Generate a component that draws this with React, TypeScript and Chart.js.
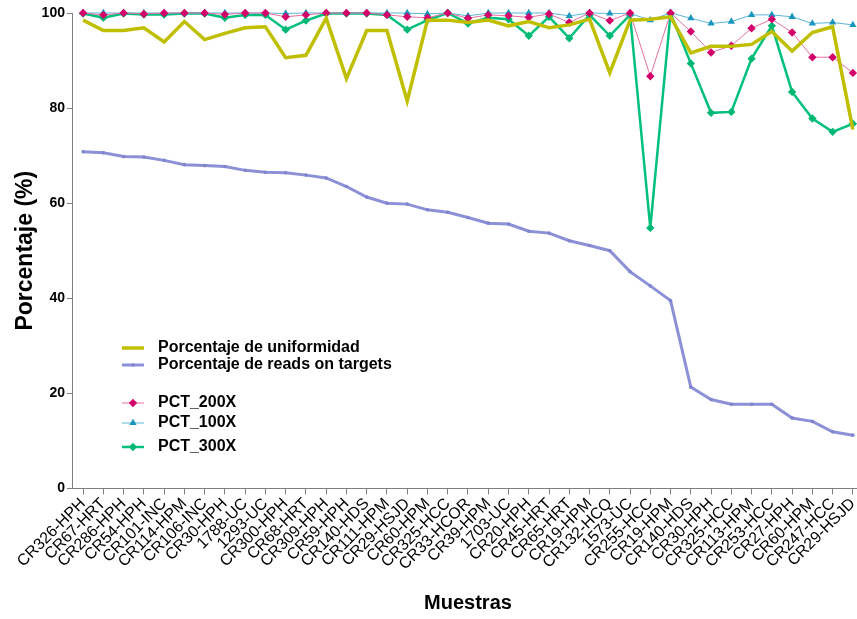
import React, { useEffect, useRef } from "react";
import { Chart, registerables } from "chart.js";

Chart.register(...registerables);

const categories = [
  "CR326-HPH", "CR67-HRT", "CR286-HPH", "CR54-HPH", "CR101-INC", "CR114-HPM", "CR106-INC",
  "CR30-HPH", "1788-UC", "1293-UC", "CR300-HPH", "CR68-HRT", "CR309-HPH", "CR59-HPH",
  "CR140-HDS", "CR111-HPM", "CR29-HSJD", "CR60-HPM", "CR325-HCC", "CR33-HCOR", "CR39-HPM",
  "1703-UC", "CR20-HPH", "CR45-HRT", "CR65-HRT", "CR19-HPM", "CR132-HCQ", "1573-UC",
  "CR255-HCC", "CR19-HPM", "CR140-HDS", "CR30-HPH", "CR325-HCC", "CR113-HPM", "CR253-HCC",
  "CR27-HPH", "CR60-HPM", "CR247-HCC", "CR29-HSJD",
];

const uniformidad = [
  98.5, 96.3, 96.3, 96.9, 93.9, 98.2, 94.4, 95.7, 96.9, 97.1, 90.6, 91.1, 98.9, 86.2,
  96.3, 96.3, 81.5, 98.5, 98.5, 98.0, 98.5, 97.3, 98.2, 96.9, 97.5, 98.7, 87.4, 98.5,
  98.7, 99.2, 91.6, 93.0, 93.0, 93.4, 96.1, 92.0, 95.9, 97.1, 75.5,
];

const readsOnTarget = [
  70.8, 70.6, 69.8, 69.7, 69.0, 68.1, 67.9, 67.7, 66.9, 66.5, 66.4, 65.9, 65.3, 63.5,
  61.3, 60.0, 59.8, 58.6, 58.1, 57.0, 55.8, 55.6, 54.1, 53.7, 52.1, 51.1, 50.0, 45.6,
  42.6, 39.5, 21.3, 18.7, 17.7, 17.7, 17.7, 14.8, 14.1, 11.9, 11.2,
];

const pct200 = [
  100, 99.6, 100, 99.8, 100, 100, 100, 99.7, 100, 100, 99.2, 99.6, 100, 100,
  100, 99.6, 99.2, 99.0, 100, 98.9, 99.6, 99.4, 99.1, 99.8, 98.0, 100, 98.4, 100,
  86.7, 100, 96.1, 91.7, 93.1, 96.8, 98.7, 95.9, 90.7, 90.7, 87.4,
];

const pct100 = [
  100, 100, 100, 100, 100, 100, 100, 100, 100, 100, 99.9, 100, 100, 100,
  100, 100, 100, 99.8, 100, 99.4, 100, 100, 100, 100, 99.4, 100, 99.9, 99.9,
  98.5, 100, 98.9, 97.8, 98.2, 99.6, 99.6, 99.2, 97.8, 98.0, 97.5,
];

const pct300 = [
  99.9, 99.0, 99.9, 99.7, 99.7, 99.9, 99.9, 99.0, 99.6, 99.6, 96.5, 98.4, 99.9, 99.9,
  99.9, 99.6, 96.5, 98.5, 100, 97.8, 99.0, 98.7, 95.2, 99.2, 94.7, 99.6, 95.2, 99.6,
  54.8, 99.9, 89.4, 79.0, 79.2, 90.4, 97.3, 83.4, 77.8, 75.0, 76.7,
];

const yTicks = [0, 20, 40, 60, 80, 100];

const FONT = "'Liberation Sans', Arial, Helvetica, sans-serif";
const AXIS_GRAY = "#7f7f7f";

const legendRows = [
  { idx: 0, y: 348 },
  { idx: 1, y: 365 },
  { idx: 2, y: 403 },
  { idx: 3, y: 423 },
  { idx: 4, y: 447 },
];

function drawMarker(ctx: CanvasRenderingContext2D, style: string, x: number, y: number, r: number, color: string) {
  ctx.save();
  ctx.fillStyle = color;
  ctx.beginPath();
  if (style === "rectRot") {
    ctx.moveTo(x, y - r);
    ctx.lineTo(x + r, y);
    ctx.lineTo(x, y + r);
    ctx.lineTo(x - r, y);
  } else if (style === "triangle") {
    ctx.moveTo(x, y - r);
    ctx.lineTo(x + r * 0.866, y + r * 0.5);
    ctx.lineTo(x - r * 0.866, y + r * 0.5);
  } else {
    ctx.arc(x, y, r, 0, Math.PI * 2);
  }
  ctx.closePath();
  ctx.fill();
  ctx.restore();
}

const legendPlugin = {
  id: "customLegend",
  afterDraw(chart: any) {
    const ctx: CanvasRenderingContext2D = chart.ctx;
    const xLine0 = chart.chartArea.left + 49;
    const xLine1 = xLine0 + 22;
    const xText = xLine0 + 36;
    ctx.save();
    legendRows.forEach((row) => {
      const ds: any = chart.data.datasets[row.idx];
      ctx.strokeStyle = ds.borderColor;
      ctx.lineWidth = ds.borderWidth;
      ctx.beginPath();
      ctx.moveTo(xLine0, row.y);
      ctx.lineTo(xLine1, row.y);
      ctx.stroke();
      if (ds.pointRadius > 0) {
        drawMarker(ctx, ds.pointStyle || "circle", (xLine0 + xLine1) / 2, row.y, ds.pointRadius, ds.pointBackgroundColor);
      }
      ctx.fillStyle = "#000";
      ctx.font = `bold 16px ${FONT}`;
      ctx.textBaseline = "middle";
      ctx.textAlign = "left";
      ctx.fillText(ds.label, xText, row.y);
    });
    ctx.restore();
  },
};

export default function App() {
  const ref = useRef<HTMLCanvasElement | null>(null);
  useEffect(() => {
    if (!ref.current) return;
    const chart = new Chart(ref.current, {
      type: "line",
      data: {
        labels: categories,
        datasets: [
          {
            label: "Porcentaje de uniformidad",
            data: uniformidad,
            borderColor: "#bfbf00",
            backgroundColor: "#bfbf00",
            borderWidth: 3.5,
            pointRadius: 0,
            pointBackgroundColor: "#bfbf00",
            tension: 0,
            clip: false,
          } as any,
          {
            label: "Porcentaje de reads on targets",
            data: readsOnTarget,
            borderColor: "#8c90d6",
            backgroundColor: "#8c90d6",
            borderWidth: 3,
            pointRadius: 1.8,
            pointBorderWidth: 0,
            pointBackgroundColor: "#7f84cf",
            pointStyle: "circle",
            clip: false,
          } as any,
          {
            label: "PCT_200X",
            data: pct200,
            borderColor: "#e66fa2",
            borderWidth: 1,
            pointRadius: 4.2,
            pointBorderWidth: 0,
            pointStyle: "rectRot",
            pointBackgroundColor: "#d4006a",
            clip: false,
          } as any,
          {
            label: "PCT_100X",
            data: pct100,
            borderColor: "#5ab6d6",
            borderWidth: 1,
            pointRadius: 4.2,
            pointBorderWidth: 0,
            pointStyle: "triangle",
            pointBackgroundColor: "#1a95bd",
            clip: false,
          } as any,
          {
            label: "PCT_300X",
            data: pct300,
            borderColor: "#00c07c",
            borderWidth: 2.5,
            pointRadius: 4.2,
            pointBorderWidth: 0,
            pointStyle: "rectRot",
            pointBackgroundColor: "#00b874",
            clip: false,
          } as any,
        ],
      },
      options: {
        animation: false,
        responsive: false,
        devicePixelRatio: 1,
        layout: { padding: { left: 12, top: 13, right: 7, bottom: 4 } },
        plugins: {
          legend: { display: false },
          tooltip: { enabled: false },
        },
        elements: { line: { tension: 0 } },
        scales: {
          x: {
            type: "category",
            offset: true,
            grid: {
              display: true,
              drawOnChartArea: false,
              drawTicks: true,
              tickLength: 6,
              color: AXIS_GRAY,
              offset: false,
            },
            border: { display: true, color: AXIS_GRAY, width: 1 },
            ticks: {
              autoSkip: false,
              minRotation: 45,
              maxRotation: 45,
              color: "#000",
              padding: 0,
              font: { family: FONT, size: 16 },
            },
            title: {
              display: true,
              text: "Muestras",
              color: "#000",
              font: { family: FONT, size: 20, weight: "bold" },
              padding: { top: 17, bottom: 0 },
            },
          },
          y: {
            min: 0,
            max: 100,
            afterBuildTicks: (axis: any) => {
              axis.ticks = yTicks.map((v) => ({ value: v }));
            },
            grid: {
              display: true,
              drawOnChartArea: false,
              drawTicks: true,
              tickLength: 6,
              color: AXIS_GRAY,
            },
            border: { display: true, color: AXIS_GRAY, width: 1 },
            ticks: {
              color: "#000",
              padding: 2,
              font: { family: FONT, size: 14, weight: "bold" },
            },
            title: {
              display: true,
              text: "Porcentaje (%)",
              color: "#000",
              font: { family: FONT, size: 23, weight: "bold" },
              padding: { top: 0, bottom: 0 },
            },
          },
        },
      },
      plugins: [legendPlugin],
    });
    return () => chart.destroy();
  }, []);
  return (
    <div style={{ position: "absolute", left: 0, top: 0, width: 870, height: 619, overflow: "hidden" }}>
      <canvas ref={ref} width={870} height={619} style={{ display: "block" }} />
    </div>
  );
}
